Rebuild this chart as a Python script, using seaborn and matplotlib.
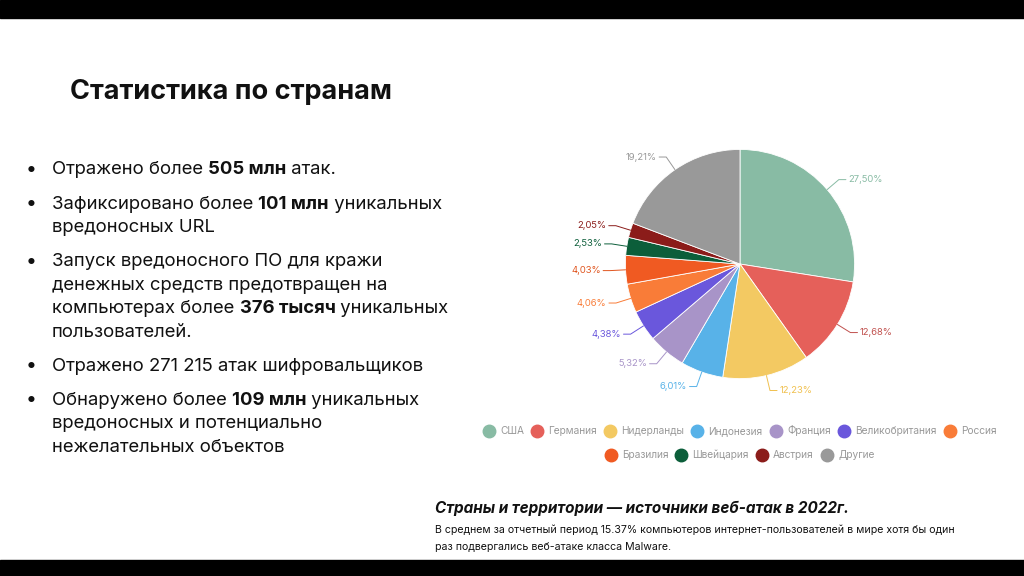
import matplotlib
matplotlib.use("Agg")
import matplotlib.pyplot as plt
import seaborn as sns
import numpy as np
from matplotlib.patches import Rectangle
from matplotlib.lines import Line2D

countries = ["США", "Германия", "Нидерланды", "Индонезия", "Франция", "Великобритания",
             "Россия", "Бразилия", "Швейцария", "Австрия", "Другие"]
shares = [27.50, 12.68, 12.23, 6.01, 5.32, 4.38, 4.06, 4.03, 2.53, 2.05, 19.21]
labels = ["27,50%", "12,68%", "12,23%", "6,01%", "5,32%", "4,38%", "4,06%", "4,03%", "2,53%", "2,05%", "19,21%"]
colors = ["#88bba4", "#e5605a", "#f3c962", "#58b2e8", "#a894c8", "#6a57dc",
          "#f97c38", "#f05a22", "#0c5e3a", "#8b1c1a", "#999999"]
label_colors = ["#88bba4", "#c0504d", "#f0c04e", "#58b2e8", "#a894c8", "#6a57dc",
                "#f97c38", "#e0551f", "#0c5e3a", "#8b1c1a", "#999999"]

sns.set_theme(style="white")
plt.rcParams["font.family"] = "Inter"
fig = plt.figure(figsize=(10.24, 5.76), dpi=100)
fig.patch.set_facecolor("white")
fig.patches.append(Rectangle((0, 1 - 18/576), 1, 18/576, transform=fig.transFigure, color="black", zorder=10))
fig.patches.append(Rectangle((0, 0), 1, 16/576, transform=fig.transFigure, color="black", zorder=10))

W, H = 1024, 576
def fx(x): return x / W
def fy(y): return 1 - y / H

fig.text(fx(70), fy(92), "Статистика по странам", fontsize=19.5, fontweight="bold", va="center", color="#111")

bullets = [
    [[("Отражено более ", False), ("505 млн", True), (" атак.", False)]],
    [[("Зафиксировано более ", False), ("101 млн", True), (" уникальных", False)],
     [("вредоносных URL", False)]],
    [[("Запуск вредоносного ПО для кражи", False)],
     [("денежных средств предотвращен на", False)],
     [("компьютерах более ", False), ("376 тысяч", True), (" уникальных", False)],
     [("пользователей.", False)]],
    [[("Отражено 271 215 атак шифровальщиков", False)]],
    [[("Обнаружено более ", False), ("109 млн", True), (" уникальных", False)],
     [("вредоносных и потенциально", False)],
     [("нежелательных объектов", False)]],
]
fig.canvas.draw()
renderer = fig.canvas.get_renderer()
y = 170
for b in bullets:
    fig.text(fx(26), fy(y), "•", fontsize=14, va="center", color="#111")
    for line in b:
        x = 52
        for seg, bold in line:
            t = fig.text(fx(x), fy(y), seg, fontsize=13.3, va="center", color="#111",
                         fontweight="bold" if bold else "normal")
            bb = t.get_window_extent(renderer)
            x += bb.width
        y += 23.6
    y += 10.4

ax = fig.add_axes([fx(740) - 0.15, fy(264) - 0.2667, 0.30, 0.5333])
wedges, _ = ax.pie(shares, colors=colors, startangle=90, counterclock=False, radius=0.97,
                   wedgeprops=dict(edgecolor="white", linewidth=0.6))
ax.set_xlim(-1.3, 1.3); ax.set_ylim(-1.3, 1.3); ax.set_aspect("equal"); ax.axis("off")
for w, lab, c in zip(wedges, labels, label_colors):
    ang = np.deg2rad((w.theta1 + w.theta2) / 2)
    x0, y0 = 0.97 * np.cos(ang), 0.97 * np.sin(ang)
    x1, y1 = 1.1 * np.cos(ang), 1.1 * np.sin(ang)
    ha = "left" if x0 > 0 else "right"
    x2 = x1 + (0.06 if x0 > 0 else -0.06)
    ax.plot([x0, x1, x2], [y0, y1, y1], color=c, lw=0.7, clip_on=False)
    ax.text(x2 + (0.02 if x0 > 0 else -0.02), y1, lab, color=c, fontsize=6.8, ha=ha, va="center")

def handles(idx):
    return [Line2D([], [], marker="o", ls="", markersize=9, markerfacecolor=colors[i],
                   markeredgecolor=colors[i], label=countries[i]) for i in idx]
kw = dict(frameon=False, fontsize=7.3, labelcolor="#999", handletextpad=0.6, columnspacing=0.8,
          handlelength=1.0)
fig.legend(handles=handles(range(7)), ncol=7, loc="center", bbox_to_anchor=(fx(740), fy(431)), **kw)
fig.legend(handles=handles(range(7, 11)), ncol=4, loc="center", bbox_to_anchor=(fx(740), fy(455)), **kw)

fig.text(fx(435), fy(508), "Страны и территории — источники веб-атак в 2022г.", fontsize=11,
         fontweight="bold", fontstyle="italic", va="center", color="#111")
fig.text(fx(435), fy(530), "В среднем за отчетный период 15.37% компьютеров интернет-пользователей в мире хотя бы один",
         fontsize=7.6, va="center", color="#111")
fig.text(fx(435), fy(547), "раз подвергались веб-атаке класса Malware.", fontsize=7.6, va="center", color="#111")

fig.savefig("out.png", dpi=100, facecolor="white")
